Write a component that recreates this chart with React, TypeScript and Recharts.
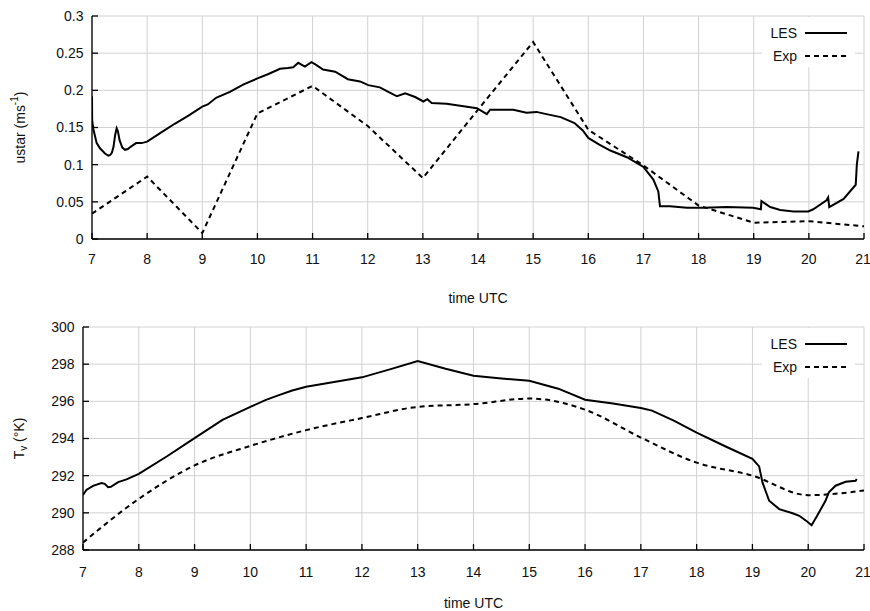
import { LineChart, Line, XAxis, YAxis, CartesianGrid, Legend, Label } from 'recharts'

const FONT = "'Liberation Sans', Arial, Helvetica, sans-serif"
const GRID = '#d2d2d2'

const HOURS = [7, 8, 9, 10, 11, 12, 13, 14, 15, 16, 17, 18, 19, 20, 21]
const USTAR_TICKS = [0, 0.05, 0.1, 0.15, 0.2, 0.25, 0.3]
const TV_TICKS = [288, 290, 292, 294, 296, 298, 300]

// top panel: friction velocity
const lesUstarTime = [
  7.0, 7.003, 7.024, 7.085, 7.145, 7.236, 7.296, 7.33, 7.36, 7.39, 7.42, 7.447, 7.47, 7.5, 7.55, 7.6, 7.65, 7.7,
  7.8, 7.9, 8.0, 8.25, 8.5, 8.75, 9.0, 9.1, 9.25, 9.5, 9.75, 10.0, 10.2, 10.41, 10.55, 10.65, 10.74, 10.86,
  10.98, 11.05, 11.19, 11.41, 11.64, 11.86, 12.01, 12.22, 12.4, 12.53, 12.68, 12.86, 13.01, 13.08, 13.16,
  13.43, 13.8, 13.98, 14.16, 14.22, 14.64, 14.88, 15.06, 15.24, 15.5, 15.75, 15.9, 16.0, 16.2, 16.4, 16.7,
  17.0, 17.18, 17.27, 17.3, 17.48, 17.79, 18.09, 18.51, 18.99, 19.13, 19.14, 19.3, 19.48, 19.72, 19.99, 20.08,
  20.32, 20.35, 20.37, 20.63, 20.85, 20.87, 20.9,
]
const lesUstar = [
  0.192, 0.16, 0.148, 0.129, 0.122, 0.115, 0.112, 0.113, 0.116, 0.124, 0.14, 0.149, 0.145, 0.133, 0.123, 0.12, 0.121, 0.124,
  0.129, 0.129, 0.131, 0.143, 0.155, 0.166, 0.178, 0.181, 0.19, 0.198, 0.208, 0.216, 0.222, 0.229, 0.23, 0.231, 0.237, 0.232,
  0.238, 0.235, 0.228, 0.225, 0.215, 0.212, 0.207, 0.204, 0.197, 0.192, 0.196, 0.191, 0.185, 0.188, 0.183,
  0.182, 0.178, 0.176, 0.168, 0.174, 0.174, 0.17, 0.171, 0.168, 0.164, 0.156, 0.146, 0.136, 0.127, 0.119, 0.11,
  0.097, 0.08, 0.064, 0.044, 0.044, 0.042, 0.042, 0.043, 0.042, 0.04, 0.051, 0.043, 0.039, 0.037, 0.037, 0.04,
  0.052, 0.056, 0.043, 0.054, 0.073, 0.1, 0.118,
]
const expUstar = [0.034, 0.084, 0.008, 0.169, 0.206, 0.152, 0.082, 0.174, 0.265, 0.147, 0.099, 0.045, 0.022, 0.024, 0.017]

// bottom panel: virtual temperature
const lesTvTime = [
  7.0, 7.06, 7.18, 7.33, 7.39, 7.45, 7.5, 7.63, 7.78, 8.0, 8.5, 9.0, 9.5, 10.0, 10.28, 10.5, 10.75, 11.0, 11.5,
  12.0, 12.5, 13.0, 13.5, 14.0, 14.5, 15.0, 15.52, 16.0, 16.5, 17.0, 17.2, 17.6, 18.0, 18.52, 19.0, 19.12, 19.18,
  19.3, 19.48, 19.72, 19.84, 19.98, 20.06, 20.16, 20.31, 20.37, 20.49, 20.67, 20.85, 20.87,
]
const lesTv = [
  290.96, 291.23, 291.45, 291.6, 291.56, 291.38, 291.4, 291.65, 291.8, 292.1, 293.03, 294.02, 295.0, 295.7, 296.08,
  296.32, 296.58, 296.78, 297.04, 297.29, 297.72, 298.17, 297.75, 297.38, 297.23, 297.11, 296.68, 296.09, 295.88,
  295.64, 295.5, 294.95, 294.32, 293.57, 292.9, 292.5, 291.64, 290.65, 290.2, 289.98, 289.84, 289.53, 289.33,
  289.84, 290.65, 291.1, 291.46, 291.67, 291.73, 291.82,
]
const expTv = [288.4, 290.75, 292.55, 293.6, 294.45, 295.1, 295.7, 295.85, 296.15, 295.55, 294.05, 292.7, 292.0, 290.95, 291.2]

const SERIES = [
  { name: 'LES', dash: undefined as string | undefined },
  { name: 'Exp', dash: '5 4' },
]

const zip = (t: number[], v: number[]) => t.map((x, i) => ({ t: x, v: v[i] }))

const LegendBox = () => (
  <div style={{ background: '#fff', paddingTop: 4, paddingRight: 8, width: 85, fontFamily: FONT, fontSize: 14, color: '#111' }}>
    {SERIES.map((s) => (
      <div key={s.name} style={{ display: 'flex', alignItems: 'center', justifyContent: 'flex-end', height: 23 }}>
        <span>{s.name}</span>
        <svg width={42} height={4} style={{ marginLeft: 8 }}>
          <line x1={0} y1={2} x2={42} y2={2} stroke="#000" strokeWidth={2} strokeDasharray={s.dash} />
        </svg>
      </div>
    ))}
  </div>
)

function Panel(props: {
  les: { t: number; v: number }[]
  exp: { t: number; v: number }[]
  ticks: number[]
  height: number
  top: number
  axisW: number
  xAxisH: number
  titleDy: number
  titleX: number
  ylabel: any
  expSmooth: boolean
}) {
  const { ticks } = props
  return (
    <LineChart
      width={870}
      height={props.height}
      margin={{ top: props.top, right: 6, left: 0, bottom: 0 }}
      style={{ fontFamily: FONT }}
    >
      <CartesianGrid xAxisId="b" yAxisId="l" stroke={GRID} strokeWidth={1} />
      <XAxis
        xAxisId="b"
        dataKey="t"
        type="number"
        domain={[7, 21]}
        ticks={HOURS}
        allowDataOverflow
        height={props.xAxisH}
        stroke="#000"
        strokeWidth={1.3}
        tickSize={-6}
        tickMargin={props.top === 16 ? 21 : 23}
        tick={{ fill: '#111', fontSize: 14 }}
      >
        <Label
          content={(p: any) => (
            <text
              x={p.viewBox.x + p.viewBox.width / 2}
              y={p.viewBox.y + props.titleDy}
              textAnchor="middle"
              dominantBaseline="central"
              fontSize={14}
              fill="#111"
            >
              time UTC
            </text>
          )}
        />
      </XAxis>
      <XAxis xAxisId="t" orientation="top" type="number" domain={[7, 21]} ticks={HOURS} height={0} stroke="#000" strokeWidth={1.3} tickSize={-6} tick={false} />
      <YAxis
        yAxisId="l"
        type="number"
        domain={[ticks[0], ticks[ticks.length - 1]]}
        ticks={ticks}
        width={props.axisW}
        stroke="#000"
        strokeWidth={1.3}
        tickSize={-6}
        tickMargin={14.5}
        tick={{ fill: '#111', fontSize: 14 }}
      >
        <Label
          content={(p: any) => {
            const cy = p.viewBox.y + p.viewBox.height / 2
            return (
              <text
                x={props.titleX}
                y={cy}
                transform={`rotate(-90, ${props.titleX}, ${cy})`}
                textAnchor="middle"
                dominantBaseline="central"
                fontSize={14}
                fill="#111"
              >
                {props.ylabel}
              </text>
            )
          }}
        />
      </YAxis>
      <YAxis
        yAxisId="r"
        orientation="right"
        type="number"
        domain={[ticks[0], ticks[ticks.length - 1]]}
        ticks={ticks}
        width={0}
        stroke="#000"
        strokeWidth={1.3}
        tickSize={-6}
        tick={false}
      />
      <Legend
        layout="vertical"
        align="center"
        verticalAlign="middle"
        wrapperStyle={{ top: props.top + 1, left: 762, width: 93 }}
        content={() => <LegendBox />}
      />
      <Line
        xAxisId="b"
        yAxisId="l"
        data={props.exp}
        dataKey="v"
        name="Exp"
        type={props.expSmooth ? 'monotone' : 'linear'}
        stroke="#000"
        strokeWidth={2}
        strokeDasharray="5 4"
        dot={false}
        isAnimationActive={false}
      />
      <Line
        xAxisId="b"
        yAxisId="l"
        data={props.les}
        dataKey="v"
        name="LES"
        type="linear"
        stroke="#000"
        strokeWidth={2}
        dot={false}
        isAnimationActive={false}
      />
    </LineChart>
  )
}

export default function App() {
  return (
    <div style={{ position: 'absolute', left: 0, top: 0, width: 870, height: 611, background: '#fff', fontFamily: FONT }}>
      <Panel
        les={zip(lesUstarTime, lesUstar)}
        exp={zip(HOURS, expUstar)}
        ticks={USTAR_TICKS}
        height={310}
        top={16}
        axisW={92}
        xAxisH={71}
        titleDy={59}
        titleX={20}
        expSmooth={false}
        ylabel={
          <>
            ustar (ms<tspan dy={-6} fontSize={10}>-1</tspan>
            <tspan dy={6}>)</tspan>
          </>
        }
      />
      <Panel
        les={zip(lesTvTime, lesTv)}
        exp={zip(HOURS, expTv)}
        ticks={TV_TICKS}
        height={301}
        top={17}
        axisW={83}
        xAxisH={61}
        titleDy={53}
        titleX={19}
        expSmooth={true}
        ylabel={
          <>
            T<tspan dy={4} fontSize={10}>v</tspan>
            <tspan dy={-4}> (°K)</tspan>
          </>
        }
      />
    </div>
  )
}
